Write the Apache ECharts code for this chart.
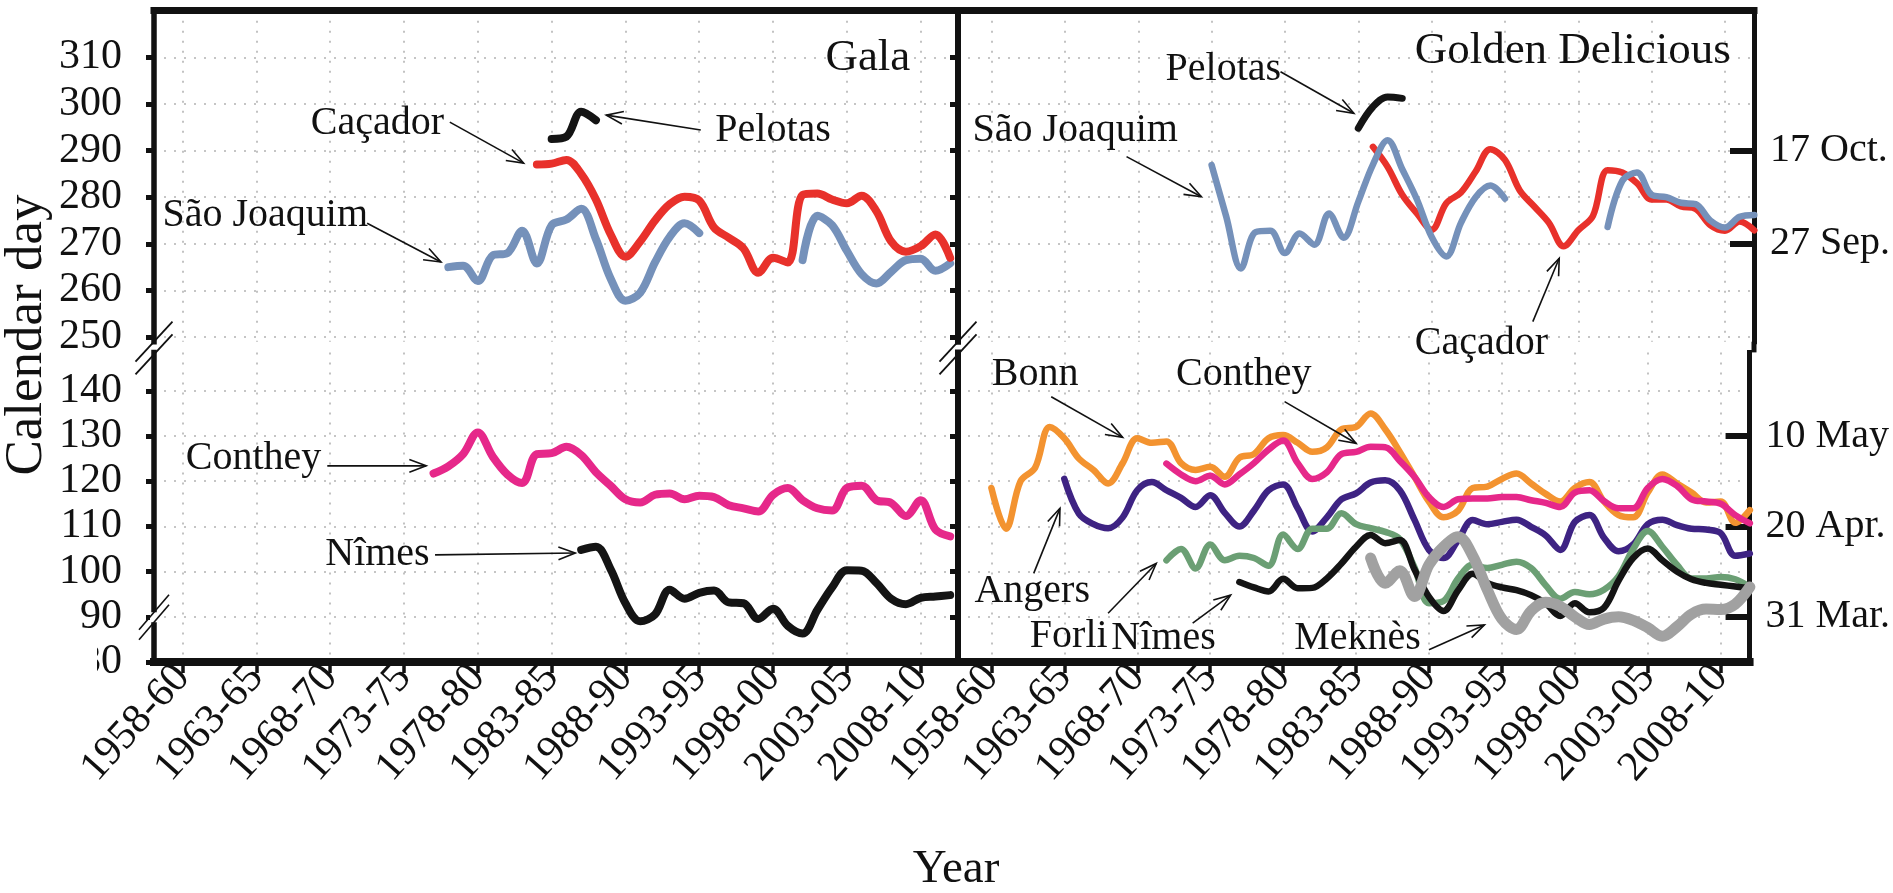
<!DOCTYPE html>
<html><head><meta charset="utf-8">
<script src="https://cdn.jsdelivr.net/npm/echarts@6/dist/echarts.min.js"></script>
<style>html,body{margin:0;padding:0;background:#fff}#c{width:1893px;height:893px}</style>
</head><body><div id="c"></div>
<script>
// ---------------- data ----------------
const tickYears = [1958,1963,1968,1973,1978,1983,1988,1993,1998,2003,2008];
const tickLabels = ['1958-60','1963-65','1968-70','1973-75','1978-80','1983-85','1988-90','1993-95','1998-00','2003-05','2008-10'];
const upperTicks = [250,260,270,280,290,300,310];
const lowerTicks = [80,90,100,110,120,130,140];
const upperDateDays = [270, 290];
const upperDateLabels = ['27 Sep.', '17 Oct.'];
const lowerDateDays = [90, 110, 130];
const lowerDateLabels = ['31 Mar.', '20 Apr.', '10 May'];

// Gala (first year, then one value per year; null = no data)
const galaSaoJoaquimFrom = 1976;
const galaSaoJoaquim = [265.0,265.3,262.0,267.5,268.0,272.8,265.8,274.0,275.2,277.5,271.0,262.5,257.8,259.5,266.0,271.5,274.4,272.3,
  null,null,null,null,null,null,266.5,276.0,274.0,268.5,263.5,261.5,264.0,266.5,266.8,264.2,265.8];
const galaCacadorFrom = 1982;
const galaCacador = [287.0,287.2,288.0,285.0,279.5,272.0,267.2,270.5,275.0,278.5,280.1,279.3,273.5,271.3,269.0,263.8,267.0,266.0,
  280.5,280.8,279.5,278.7,280.3,277.0,270.5,268.3,269.5,272.0,267.0];
const galaPelotasFrom = 1983;
const galaPelotas = [292.5,293.0,298.3,296.5];
const galaContheyFrom = 1975;
const galaConthey = [121.7,123.3,126.0,130.8,125.5,121.5,119.6,126.0,126.2,127.6,125.8,122.0,119.0,116.0,115.3,117.0,117.3,116.0,
  116.8,116.5,114.7,114.0,113.3,117.0,118.5,115.8,114.0,113.5,118.5,119.0,115.8,115.2,112.3,115.8,109.3,107.8];
const galaNimesFrom = 1985;
const galaNimes = [104.8,105.5,100.5,93.0,89.0,90.5,96.0,94.0,95.3,95.8,93.2,93.0,89.5,91.8,88.0,86.3,91.5,96.5,100.3,100.2,
  97.5,94.0,92.8,94.2,94.5,94.8];

// Golden Delicious
const gdSaoJoaquimFrom = 1973;
const gdSaoJoaquim = [286.9,275.8,264.7,272.5,272.8,268.0,272.2,269.8,276.5,271.3,279.0,287.0,292.2,286.0,279.5,271.5,267.3,274.5,
  280.0,282.5,279.7,null,null,null,null,null,null,273.6,283.5,285.3,280.5,280.0,278.8,278.5,275.0,273.5,275.8,276.2];
const gdCacadorFrom = 1984;
const gdCacador = [290.8,286.5,280.5,276.5,273.0,278.7,281.0,285.5,290.3,288.0,281.5,278.0,274.5,269.5,272.9,276.0,285.8,285.3,
  283.0,279.5,279.5,278.0,277.5,274.0,272.8,274.8,272.9];
const gdPelotasFrom = 1983;
const gdPelotas = [294.8,299.4,301.5,301.2];
const gdBonnFrom = 1958;
const gdBonn = [118.5,109.5,120.0,123.0,132.0,129.5,125.0,122.5,119.5,124.0,129.5,128.5,128.8,124.0,122.5,123.2,121.0,125.2,126.0,
  129.5,130.2,128.5,126.5,127.5,131.5,132.0,135.0,131.5,126.5,121.0,115.5,112.0,113.5,118.5,118.8,120.5,121.7,119.5,117.2,115.5,
  118.5,119.8,115.5,112.5,112.0,117.5,121.5,119.5,117.5,115.3,115.5,110.8,113.6];
const gdContheyFrom = 1970;
const gdConthey = [123.9,121.5,120.0,121.2,119.3,121.5,124.0,127.0,129.0,124.0,120.5,122.0,126.0,126.5,127.6,127.5,124.5,121.0,
  116.5,114.3,116.0,116.2,116.2,116.5,116.5,115.8,115.2,114.3,117.5,118.0,115.6,114.0,114.0,118.5,120.5,119.0,116.0,115.5,115.0,
  112.5,110.7];
const gdAngersFrom = 1963;
const gdAngers = [120.5,112.8,110.5,109.6,112.0,118.0,119.8,118.0,116.3,114.3,116.9,113.0,110.0,113.5,118.0,119.3,114.0,108.9,
  112.0,116.0,117.3,119.7,120.2,118.0,111.5,104.8,103.0,107.0,111.4,110.5,111.0,111.5,109.9,108.0,104.8,111.0,112.5,107.5,104.5,
  106.0,110.5,111.5,110.3,109.5,109.3,108.5,103.5,104.0];
const gdForliFrom = 1970;
const gdForli = [102.5,105.0,100.7,106.0,102.5,103.5,103.0,101.3,108.2,105.0,109.5,109.5,112.9,110.5,109.6,108.8,107.2,101.0,93.0,
  93.5,98.5,101.5,100.8,101.5,102.2,100.8,97.0,94.0,95.5,95.0,96.0,99.0,105.0,109.0,105.5,101.5,98.5,98.5,98.8,98.3,96.6];
const gdNimesFrom = 1975;
const gdNimes = [97.7,96.5,95.6,98.4,96.3,96.4,98.5,101.8,105.5,108.1,106.3,107.0,100.5,94.4,91.3,95.9,99.5,97.5,96.5,95.9,94.8,
  93.0,90.2,93.0,91.0,92.0,98.0,103.0,105.1,102.5,100.0,98.3,97.5,97.1,96.7,96.3];
const gdMeknesFrom = 1984;
const gdMeknes = [103.0,97.4,100.2,94.5,101.5,105.5,107.7,103.5,96.0,89.5,87.2,91.3,93.2,92.3,90.0,88.3,89.5,90.0,89.2,87.6,85.7,
  87.8,90.6,91.7,91.6,92.8,96.6];

// ---------------- layout ----------------
const FONT = '"Liberation Serif", "Times New Roman", serif';
const INK = '#111';
const frameL = 154, divider = 958, frameR = 1754;
const topY = 10.7, topH = 331, botY = 352.4, botH = 309.6;
const xLeftMin = 1956.06, xLeftMax = 2010.53, xRightMin = 1955.71, xRightMax = 2009.98;
const upMin = 249, upMax = 320, lowMin = 80, lowMax = 148.5;
const dotted = {color: '#b3b3b3', width: 1.6, type: [2, 8]};

function xAx(gi, pos, min, max, labels) {
  return {type: 'value', gridIndex: gi, position: pos, min: min, max: max,
    axisLine: {show: true, onZero: false, lineStyle: {color: INK, width: pos === 'top' ? 7 : 8, cap: 'square'}},
    axisTick: {show: labels, customValues: tickYears, length: 11, lineStyle: {color: INK, width: 3.5}},
    axisLabel: {show: labels, customValues: tickYears, rotate: 48, margin: 9, fontSize: 42, fontFamily: FONT, color: INK,
      formatter: v => tickLabels[tickYears.indexOf(Math.round(v))]},
    splitLine: {show: true, lineStyle: dotted}};
}
function yLab(gi, min, max, ticks) {
  return {type: 'value', gridIndex: gi, position: 'left', min: min, max: max,
    axisLine: {show: true, onZero: false, lineStyle: {color: INK, width: 5.5, cap: 'square'}},
    axisTick: {show: true, customValues: ticks, length: 8, lineStyle: {color: INK, width: 5}},
    axisLabel: {customValues: ticks, fontSize: 42, fontFamily: FONT, color: INK, margin: 32},
    splitLine: {show: true, lineStyle: dotted}};
}
function yDiv(gi, min, max, ticks) {
  return {type: 'value', gridIndex: gi, position: 'right', min: min, max: max,
    axisLine: {show: true, onZero: false, lineStyle: {color: INK, width: 6, cap: 'square'}},
    axisTick: {show: true, inside: true, customValues: ticks, length: 8, lineStyle: {color: INK, width: 5}},
    axisLabel: {show: false}, splitLine: {show: false}};
}
function yGrid(gi, min, max, ticks) {
  return {type: 'value', gridIndex: gi, position: 'left', min: min, max: max,
    axisLine: {show: false}, axisTick: {show: false, customValues: ticks},
    axisLabel: {show: false, customValues: ticks}, splitLine: {show: true, lineStyle: dotted}};
}
function yDates(gi, min, max, days, labels) {
  return {type: 'value', gridIndex: gi, position: 'right', min: min, max: max,
    axisLine: {show: true, onZero: false, lineStyle: {color: INK, width: 5, cap: 'square'}},
    axisTick: {show: true, inside: true, customValues: days, length: 24, lineStyle: {color: INK, width: 6}},
    axisLabel: {customValues: days, margin: 16, fontSize: 40, fontFamily: FONT, color: INK,
      formatter: v => labels[days.indexOf(Math.round(v))]},
    splitLine: {show: false}};
}
function pts(from, vals) { return vals.map((v, i) => [from + i, v]); }
function line(xi, yi, from, vals, color, width) {
  return {type: 'line', xAxisIndex: xi, yAxisIndex: yi, data: pts(from, vals), smooth: 0.35,
    symbol: 'none', showSymbol: false, connectNulls: false, silent: true,
    lineStyle: {color: color, width: width, cap: 'round', join: 'round'}};
}
const C = {blue: '#7591ba', red: '#e8312b', black: '#141414', pink: '#e6288a', orange: '#f39330',
  purple: '#3e2383', green: '#6b9f74', gray: '#a1a1a1'};

const option = {
  animation: false, backgroundColor: '#fff',
  grid: [
    {left: frameL, top: topY, width: divider - frameL, height: topH},
    {left: frameL, top: botY, width: divider - frameL, height: botH},
    {left: divider, top: topY, width: frameR - divider, height: topH},
    {left: divider, top: botY, width: frameR - divider, height: botH}
  ],
  xAxis: [
    xAx(0, 'top', xLeftMin, xLeftMax, false),
    xAx(1, 'bottom', xLeftMin, xLeftMax, true),
    xAx(2, 'top', xRightMin, xRightMax, false),
    xAx(3, 'bottom', xRightMin, xRightMax, true)
  ],
  yAxis: [
    yLab(0, upMin, upMax, upperTicks), yDiv(0, upMin, upMax, upperTicks),
    yLab(1, lowMin, lowMax, lowerTicks), yDiv(1, lowMin, lowMax, lowerTicks),
    yGrid(2, upMin, upMax, upperTicks), yDates(2, upMin, upMax, upperDateDays, upperDateLabels),
    yGrid(3, lowMin, lowMax, lowerTicks), yDates(3, lowMin, lowMax, lowerDateDays, lowerDateLabels)
  ],
  series: [
    line(0, 0, galaSaoJoaquimFrom, galaSaoJoaquim, C.blue, 8),
    line(0, 0, galaCacadorFrom, galaCacador, C.red, 8),
    line(0, 0, galaPelotasFrom, galaPelotas, C.black, 8),
    line(1, 2, galaContheyFrom, galaConthey, C.pink, 8),
    line(1, 2, galaNimesFrom, galaNimes, C.black, 8),
    line(2, 5, gdCacadorFrom, gdCacador, C.red, 6.5),
    line(2, 5, gdSaoJoaquimFrom, gdSaoJoaquim, C.blue, 6.5),
    line(2, 5, gdPelotasFrom, gdPelotas, C.black, 7),
    line(3, 7, gdBonnFrom, gdBonn, C.orange, 6.5),
    line(3, 7, gdContheyFrom, gdConthey, C.pink, 6.5),
    line(3, 7, gdAngersFrom, gdAngers, C.purple, 6.5),
    line(3, 7, gdForliFrom, gdForli, C.green, 6.5),
    line(3, 7, gdNimesFrom, gdNimes, C.black, 6.5),
    line(3, 7, gdMeknesFrom, gdMeknes, C.gray, 11)
  ]
};

const chart = echarts.init(document.getElementById('c'), null, {renderer: 'canvas'});
chart.setOption(option);

// ---------------- annotations (in data units of each panel) ----------------
const panelAxes = [[0, 0], [1, 2], [2, 5], [3, 7]];
// [text, panel, textX, textY, align, arrowFromX, arrowFromY, arrowToX, arrowToY]
const notes = [
  ['Gala', 0, 2007.3, 309.8, 'right'],
  ['Caçador', 0, 1971.2, 295.9, 'center', 1976.1, 296.1, 1981.1, 287.3],
  ['Pelotas', 0, 1998.0, 294.4, 'center', 1993.1, 294.4, 1986.7, 297.6],
  ['São Joaquim', 0, 1963.6, 276.1, 'center', 1970.5, 274.4, 1975.5, 266.1],
  ['Conthey', 1, 1962.8, 125.1, 'center', 1967.8, 123.4, 1974.5, 123.4],
  ['Nîmes', 1, 1971.2, 103.7, 'center', 1975.1, 103.7, 1984.6, 104.1],
  ['Golden Delicious', 2, 2008.4, 311.3, 'right'],
  ['Pelotas', 2, 1973.8, 307.3, 'center', 1977.7, 306.9, 1982.7, 298.0],
  ['São Joaquim', 2, 1963.7, 294.4, 'center', 1967.2, 288.7, 1972.3, 280.1],
  ['Caçador', 2, 1991.4, 248.6, 'center', 1994.9, 253.3, 1996.7, 266.9],
  ['Bonn', 3, 1961.0, 143.7, 'center', 1962.1, 138.7, 1967.0, 129.7],
  ['Conthey', 3, 1975.3, 143.7, 'center', 1978.1, 137.6, 1983.0, 128.4],
  ['Angers', 3, 1960.8, 95.5, 'center', 1960.9, 99.6, 1962.7, 114.0],
  ['Forli', 3, 1963.3, 85.6, 'center', 1966.0, 90.8, 1969.3, 101.8],
  ['Nîmes', 3, 1969.8, 85.3, 'center', 1971.8, 88.6, 1974.4, 94.8],
  ['Meknès', 3, 1983.1, 85.3, 'center', 1988.0, 82.7, 1991.8, 88.2]
];
function px(panel, x, y) {
  return chart.convertToPixel({xAxisIndex: panelAxes[panel][0], yAxisIndex: panelAxes[panel][1]}, [x, y]);
}
const g = [];
function seg(x1, y1, x2, y2, w, color) {
  g.push({type: 'line', z: 100, silent: true, shape: {x1: x1, y1: y1, x2: x2, y2: y2},
    style: {stroke: color || INK, lineWidth: w}});
}
function txt(s, x, y, size, align, rot) {
  g.push({type: 'text', z: 101, silent: true, x: x, y: y, rotation: rot || 0,
    style: {text: s, font: size + 'px ' + FONT, fill: INK, align: align, verticalAlign: 'middle',
      textAlign: align, textVerticalAlign: 'middle'}});
}
notes.forEach(n => {
  const p = px(n[1], n[2], n[3]);
  txt(n[0], p[0], p[1], (n[0] === 'Gala' || n[0] === 'Golden Delicious') ? 45 : 40, n[4]);
  if (n.length > 5) {
    const a = px(n[1], n[5], n[6]), b = px(n[1], n[7], n[8]);
    seg(a[0], a[1], b[0], b[1], 1.6);
    const ang = Math.atan2(b[1] - a[1], b[0] - a[0]), L = 18, s = 0.36;
    g.push({type: 'polyline', z: 100, silent: true,
      shape: {points: [[b[0] - L * Math.cos(ang - s), b[1] - L * Math.sin(ang - s)], b,
        [b[0] - L * Math.cos(ang + s), b[1] - L * Math.sin(ang + s)]]},
      style: {stroke: INK, lineWidth: 1.6, fill: null}});
  }
});
// axis titles
txt('Calendar day', 27, 335, 53, 'center', Math.PI / 2);
txt('Year', (frameL + frameR) / 2 + 2, 870, 47, 'center');
// right frame continues through the axis break
seg(frameR, topY + topH, frameR, botY, 5);
// break marks between the upper and lower parts
[frameL, divider].forEach(x => {
  seg(x - 18.5, topY + topH + 20, x + 18.5, topY + topH - 20, 1.8);
  seg(x - 18.5, botY + 22, x + 18.5, botY - 18, 1.8);
});
// break mark between 90 and 80 on the left frame
const b90 = px(1, xLeftMin, 91.0)[1], b80 = px(1, xLeftMin, 88.8)[1];
g.push({type: 'rect', z: 99, silent: true, shape: {x: frameL - 4, y: b90, width: 8, height: b80 - b90}, style: {fill: '#fff'}});
seg(frameL - 15, b90 + 17.5, frameL + 15, b90 - 17.5, 1.6);
seg(frameL - 15, b80 + 17.5, frameL + 15, b80 - 17.5, 1.6);
// the "8" of the lowest label is hidden in the reference
g.push({type: 'rect', z: 99, silent: true, shape: {x: 70, y: 640, width: 27, height: 44}, style: {fill: '#fff'}});
chart.setOption({graphic: g});
</script>
</body></html>
